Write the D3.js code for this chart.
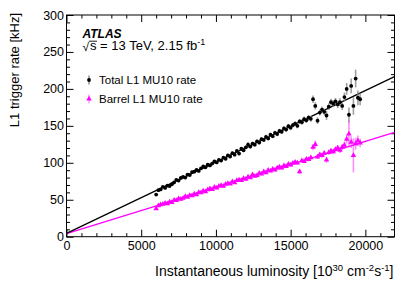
<!DOCTYPE html>
<html>
<head>
<meta charset="utf-8">
<script src="https://cdn.jsdelivr.net/npm/d3@7"></script>
<style>
  body { margin: 0; background: #fff; }
  text { font-family: "Liberation Sans", Arial, sans-serif; }
</style>
</head>
<body>
<script>
var svgWidth = 415;
var svgHeight = 282;

// luminosity bins [10^30 cm^-2 s^-1]
var lumi = [6000, 6150, 6300, 6450, 6600, 6750, 6900, 7050, 7200, 7350,
    7500, 7650, 7800, 7950, 8100, 8250, 8400, 8550, 8700, 8850,
    9000, 9150, 9300, 9450, 9600, 9750, 9900, 10050, 10200, 10350,
    10500, 10650, 10800, 10950, 11100, 11250, 11400, 11550, 11700, 11850,
    12000, 12150, 12300, 12450, 12600, 12750, 12900, 13050, 13200, 13350,
    13500, 13650, 13800, 13950, 14100, 14250, 14400, 14550, 14700, 14850,
    15000, 15150, 15300, 15450, 15600, 15750, 15900, 16050, 16200, 16350,
    16500, 16650, 16800, 16950, 17100, 17250, 17400, 17550, 17700, 17850,
    18000, 18150, 18300, 18450, 18600, 18750, 18900, 19050, 19200, 19350,
    19500, 19650];

// total L1 MU10 rate [kHz]
var totalRate = [57, 63, 64, 67.5, 66, 69, 68.5, 71, 73.5, 77,
    76, 79.5, 81, 80, 84, 83.5, 87.5, 88, 90.5, 89,
    92.5, 95, 94, 97.5, 96.5, 99, 102, 100.5, 104, 103,
    107, 105.5, 110, 108.5, 113, 111, 116, 112.5, 119, 117,
    121, 124.5, 122, 126, 124.5, 129, 127.5, 132, 131, 135,
    133, 138, 136, 140.5, 139, 143, 142, 146.5, 145, 149.5,
    147.5, 151, 153, 150, 156, 155, 159, 157.5, 161, 159.5,
    186, 177, 157, 168, 172, 169, 164, 176, 182, 180,
    183, 179, 182, 177, 189, 200, 165, 204, 177, 214,
    188, 186];
var totalErr = [1.5, 1.5, 1.5, 1.5, 1.5, 1.5, 1.5, 1.6, 1.6, 1.6,
    1.6, 1.6, 1.7, 1.7, 1.7, 1.7, 1.8, 1.8, 1.8, 1.8,
    1.9, 1.9, 1.9, 2, 2, 2, 2, 2.1, 2.1, 2.1,
    2.2, 2.2, 2.2, 2.3, 2.3, 2.3, 2.4, 2.4, 2.4, 2.5,
    2.5, 3.5, 2.5, 2.6, 2.6, 2.6, 2.7, 2.7, 2.7, 2.8,
    2.8, 2.8, 2.9, 2.9, 3, 3, 3, 3.1, 3.1, 3.2,
    3.2, 3.3, 3.3, 3.4, 3.5, 3.5, 3.6, 3.7, 3.8, 3.9,
    5, 5, 4.5, 4, 4.2, 4.3, 6, 4.5, 4.6, 4.7,
    4.8, 5, 5.2, 5.5, 6, 8, 10, 10, 12, 12,
    10, 8];

// barrel L1 MU10 rate [kHz]
var barrelRate = [38, 42, 43.5, 44, 45.5, 44.8, 47, 46.5, 49.5, 49,
    51.5, 50.8, 52, 54.5, 53.5, 56, 55.5, 58, 57, 60,
    59.5, 62, 61, 63.5, 65, 64, 67, 66, 68.5, 69.5,
    68.5, 71, 72, 71.5, 74.5, 73, 76, 77, 76, 79,
    78, 81, 80, 84, 82, 83, 86, 85, 88, 86.5,
    90, 89, 91.5, 90.5, 93, 94.5, 93, 96, 95, 98,
    97, 99.5, 101, 100, 88, 103, 102, 105, 104.5, 107,
    121, 125, 108, 111, 110, 113, 104, 114, 116, 115,
    118, 120, 117, 121, 124, 132, 139, 128, 110, 126,
    130, 127];
var barrelErr = [1.2, 1.2, 1.2, 1.2, 1.2, 1.2, 1.2, 1.3, 1.3, 1.3,
    1.3, 1.3, 1.3, 1.3, 1.3, 1.4, 1.4, 1.4, 1.4, 1.4,
    1.4, 1.5, 1.5, 1.5, 1.5, 1.5, 1.5, 1.6, 1.6, 1.6,
    1.6, 1.6, 1.7, 1.7, 1.7, 1.7, 1.7, 1.8, 1.8, 1.8,
    1.8, 1.9, 1.9, 2.5, 1.9, 2, 2, 2, 2, 2.1,
    2.1, 2.1, 2.1, 2.2, 2.2, 2.2, 2.3, 2.3, 2.3, 2.4,
    2.4, 2.5, 2.5, 2.5, 3, 2.6, 2.6, 2.7, 2.7, 2.8,
    4, 5, 3, 3, 3.1, 3.2, 4, 3.3, 3.4, 3.5,
    3.6, 3.7, 3.8, 4, 4.5, 6, 18, 8, 23, 8,
    7, 6];

// linear fits: intercept, slope
var totalFit = [4.5, 0.00966];
var barrelFit = [4, 0.00625];

var xMajor = [0, 5000, 10000, 15000, 20000];
var yMajor = [0, 50, 100, 150, 200, 250, 300];

var padL = 66.5, padR = 394.5, padT = 15, padB = 236.7;

var x = d3.scaleLinear().domain([0, 21950]).range([padL, padR]);
var y = d3.scaleLinear().domain([0, 300]).range([padB, padT]);

var svg = d3.select("body").append("svg")
    .attr("width", svgWidth)
    .attr("height", svgHeight);

var xMinor = d3.range(0, 22000, 1000).filter(function (d) { return d % 5000 != 0; });
var yMinor = d3.range(0, 301, 10).filter(function (d) { return d % 50 != 0; });

function drawAxis(gen, transform, values, size, labels) {
    var g = svg.append("g").attr("transform", transform)
        .call(gen.tickValues(values).tickSize(size).tickSizeOuter(0)
            .tickFormat(labels ? d3.format("d") : ""));
    g.select(".domain").remove();
    g.selectAll("line").attr("stroke", "#000");
    g.selectAll("text").attr("font-size", "12.5px").attr("fill", "#000");
    return g;
}

// bottom / top
var gb = drawAxis(d3.axisBottom(x), "translate(0," + padB + ")", xMajor, -7, true);
gb.selectAll("text").attr("y", 4).attr("dy", "0.71em");
drawAxis(d3.axisBottom(x), "translate(0," + padB + ")", xMinor, -3.5, false);
drawAxis(d3.axisTop(x), "translate(0," + padT + ")", xMajor, -7, false);
drawAxis(d3.axisTop(x), "translate(0," + padT + ")", xMinor, -3.5, false);
// left / right
var gl = drawAxis(d3.axisLeft(y), "translate(" + padL + ",0)", yMajor, -7, true);
gl.selectAll("text").attr("x", -2.5);
drawAxis(d3.axisLeft(y), "translate(" + padL + ",0)", yMinor, -3.5, false);
drawAxis(d3.axisRight(y), "translate(" + padR + ",0)", yMajor, -7, false);
drawAxis(d3.axisRight(y), "translate(" + padR + ",0)", yMinor, -3.5, false);

svg.append("rect")
    .attr("x", padL).attr("y", padT)
    .attr("width", padR - padL).attr("height", padB - padT)
    .attr("fill", "none").attr("stroke", "#000").attr("stroke-width", 1);

// fit lines
function fitLine(fit, color) {
    svg.append("line")
        .attr("x1", x(0)).attr("y1", y(fit[0]))
        .attr("x2", x(21950)).attr("y2", y(fit[0] + fit[1] * 21950))
        .attr("stroke", color).attr("stroke-width", 1.3);
}
fitLine(barrelFit, "#ff00ff");
fitLine(totalFit, "#000");

// error bars
function errBars(vals, errs, color, op) {
    svg.append("g").selectAll("line")
        .data(lumi)
        .enter()
        .append("line")
        .attr("x1", function (d) { return x(d); })
        .attr("x2", function (d) { return x(d); })
        .attr("y1", function (d, i) { return y(vals[i] - errs[i]); })
        .attr("y2", function (d, i) { return y(vals[i] + errs[i]); })
        .attr("stroke", color).attr("stroke-opacity", op).attr("stroke-width", 1.6);
}
errBars(totalRate, totalErr, "#888", 0.8);
errBars(barrelRate, barrelErr, "#ff00ff", 0.45);

var tri = d3.symbol().type(d3.symbolTriangle).size(13);

svg.append("g").selectAll("path")
    .data(lumi)
    .enter()
    .append("path")
    .attr("d", tri)
    .attr("transform", function (d, i) { return "translate(" + x(d) + "," + y(barrelRate[i]) + ")"; })
    .attr("fill", "#ff00ff");

svg.append("g").selectAll("circle")
    .data(lumi)
    .enter()
    .append("circle")
    .attr("cx", function (d) { return x(d); })
    .attr("cy", function (d, i) { return y(totalRate[i]); })
    .attr("r", 1.9)
    .attr("fill", "#000");

// axis titles
svg.append("text")
    .attr("transform", "translate(19.3," + (padT - 2) + ") rotate(-90)")
    .attr("text-anchor", "end")
    .attr("font-size", "13px")
    .text("L1 trigger rate [kHz]");

var xt = svg.append("text")
    .attr("x", padR - 1).attr("y", 276)
    .attr("text-anchor", "end")
    .attr("font-size", "14px");
xt.append("tspan").text("Instantaneous luminosity [10");
xt.append("tspan").attr("dy", -5.5).attr("font-size", "9.5px").text("30");
xt.append("tspan").attr("dy", 5.5).text(" cm");
xt.append("tspan").attr("dy", -5.5).attr("font-size", "9.5px").text("-2");
xt.append("tspan").attr("dy", 5.5).text("s");
xt.append("tspan").attr("dy", -5.5).attr("font-size", "9.5px").text("-1");
xt.append("tspan").attr("dy", 5.5).text("]");

// labels
svg.append("text")
    .attr("x", 82.5).attr("y", 37.5)
    .attr("font-size", "12px")
    .attr("font-weight", "bold").attr("font-style", "italic")
    .text("ATLAS");

// sqrt(s) with a bar over the s
svg.append("text")
    .attr("x", 82.5).attr("y", 50.5)
    .attr("font-size", "12px")
    .text("\u221A");
svg.append("line")
    .attr("x1", 89).attr("x2", 97)
    .attr("y1", 41.2).attr("y2", 41.2)
    .attr("stroke", "#000").attr("stroke-width", 0.9);
var lt = svg.append("text")
    .attr("x", 90).attr("y", 50)
    .attr("font-size", "13px");
lt.append("tspan").text("s = 13 TeV, 2.15 fb");
lt.append("tspan").attr("dy", -5).attr("font-size", "9px").text("-1");

// legend
var legend = [
    { name: "Total L1 MU10 rate", color: "#000", bar: "#888", y: 80 },
    { name: "Barrel L1 MU10 rate", color: "#ff00ff", bar: "#ff99ff", y: 99 }
];
legend.forEach(function (d, i) {
    svg.append("line")
        .attr("x1", 89).attr("x2", 89)
        .attr("y1", d.y - 4.5).attr("y2", d.y + 4.5)
        .attr("stroke", d.bar).attr("stroke-width", 1.4);
    if (i == 0) {
        svg.append("circle").attr("cx", 89).attr("cy", d.y).attr("r", 1.9).attr("fill", d.color);
    } else {
        svg.append("path").attr("d", tri).attr("transform", "translate(89," + d.y + ")").attr("fill", d.color);
    }
    svg.append("text")
        .attr("x", 99).attr("y", d.y + 4)
        .attr("font-size", "11.5px")
        .text(d.name);
});
</script>
</body>
</html>
